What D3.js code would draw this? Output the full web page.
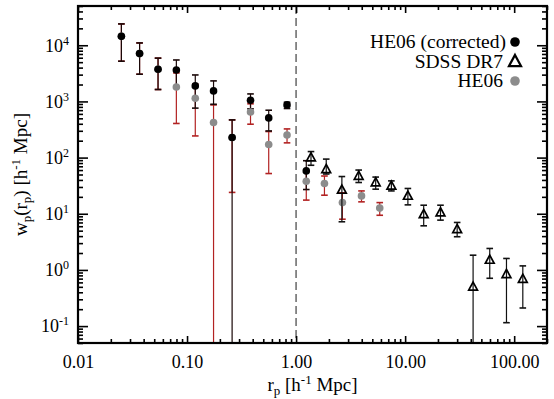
<!DOCTYPE html>
<html>
<head>
<meta charset="utf-8">
<script src="https://cdn.jsdelivr.net/npm/d3@7"></script>
<style>
  body { margin: 0; background: #fff; }
  svg, svg text { font-family: "Liberation Serif", "Times New Roman", Tinos, "DejaVu Serif", serif; }
</style>
</head>
<body>
<div id="container"></div>
<script>
// HE06 bins (projected separation, h^-1 Mpc)
const rpHe = [0.025, 0.0367, 0.0542, 0.0798, 0.119, 0.175, 0.259, 0.382, 0.561, 0.826, 1.24, 1.82, 2.66, 3.98, 5.85];
// HE06 corrected
const wpCorr = [14400, 7100, 3740, 3630, 1890, 1540, 228, 1050, 509, 867, 58];
const corrErrHi = [9600, 3900, 2160, 1840, 1070, 780, 241, 310, 188, 100, 30];
const corrErrLo = [9200, 4050, 2110, 1840, 1130, 650, 241, 310, 211, 119, 31];
// HE06 raw
const wpHe = [14400, 7100, 3740, 1810, 1140, 422, 228, 650, 171, 253, 38, 34.6, 15.8, 20.8, 12.6];
const heErrHi = [9600, 3900, 2160, 1405, 897, 445, 241, 257, 120, 71, 20.5, 12.4, 7.8, 4.7, 3.2];
const heErrLo = [9200, 4050, 2110, 1405, 897, 445, 204, 257, 119, 70, 20.5, 13.2, 7.8, 4.5, 3.2];
// SDSS DR7
const rpSdss = [1.37, 1.89, 2.63, 3.75, 5.37, 7.48, 10.6, 14.8, 21.1, 30, 42, 59.7, 85, 120];
const wpSdss = [100, 62, 26.6, 47, 36, 31.4, 20.8, 9.8, 10.5, 5.3, 0.50, 1.51, 0.84, 0.69];
const sdssErrHi = [28, 32, 19.4, 13, 9, 7.1, 7.4, 4.4, 3.7, 1.7, 1.33, 0.9, 0.76, 0.49];
const sdssErrLo = [27, 11, 19.4, 11, 8.6, 5.9, 6.4, 3.7, 2.8, 1.4, 0.5, 0.8, 0.725, 0.48];

const xTicks = [0.01, 0.1, 1, 10, 100];
const xTickLabels = ["0.01", "0.10", "1.00", "10.00", "100.00"];
const yTicks = [0.1, 1, 10, 100, 1000, 10000];
const yTickExp = ["-1", "0", "1", "2", "3", "4"];
const legendNames = ["HE06 (corrected)", "SDSS DR7", "HE06"];

const FONT = "'Liberation Serif', 'Times New Roman', Tinos, 'DejaVu Serif', serif";

const W = 554, H = 399;
const margin = {top: 6, right: 7, bottom: 56, left: 78};
const w = W - margin.left - margin.right;
const h = H - margin.top - margin.bottom;

const x = d3.scaleLog().domain([0.01, 200]).range([0, w]);
const y = d3.scaleLog().domain([0.05, 50000]).range([h, 0]);

function minors(lo, hi) {
    let out = [];
    for (let e = Math.floor(Math.log10(lo)); e <= Math.ceil(Math.log10(hi)); e++) {
        for (let m = 2; m <= 9; m++) {
            const v = m * Math.pow(10, e);
            if (v >= lo && v <= hi) out.push(v);
        }
    }
    return out;
}

const svg = d3.select("#container").append("svg")
    .attr("width", W).attr("height", H)
    .attr("font-family", FONT);

svg.append("defs").append("clipPath").attr("id", "clip")
    .append("rect").attr("width", w).attr("height", h);

const g = svg.append("g").attr("transform", "translate(" + margin.left + "," + margin.top + ")");

// dashed line at 1 Mpc
g.append("line")
    .attr("x1", x(1)).attr("x2", x(1))
    .attr("y1", 0).attr("y2", h)
    .attr("stroke", "#808080").attr("stroke-width", 1.8)
    .attr("stroke-dasharray", "8,4");

const plot = g.append("g").attr("clip-path", "url(#clip)");

function errorBars(sel, rp, wp, hi, lo, color, lw) {
    const capW = 3.3;
    const grp = sel.append("g").attr("stroke", color);
    wp.forEach((v, i) => {
        const cx = x(rp[i]);
        const yTop = y(v + hi[i]);
        const low = v - lo[i];
        const yBot = low > 0 ? y(low) : h + 10;
        grp.append("line").attr("x1", cx).attr("x2", cx)
            .attr("y1", yTop).attr("y2", yBot).attr("stroke-width", lw);
        grp.append("line").attr("x1", cx - capW).attr("x2", cx + capW)
            .attr("y1", yTop).attr("y2", yTop).attr("stroke-width", 1.6);
        if (low > 0) {
            grp.append("line").attr("x1", cx - capW).attr("x2", cx + capW)
                .attr("y1", yBot).attr("y2", yBot).attr("stroke-width", 1.6);
        }
    });
}

errorBars(plot, rpHe, wpHe, heErrHi, heErrLo, "#b22222", 1.2);
errorBars(plot, rpHe, wpCorr, corrErrHi, corrErrLo, "#1a0808", 1.2);

plot.selectAll("circle.he")
    .data(wpHe)
    .enter()
    .append("circle")
    .attr("class", "he")
    .attr("cx", (d, i) => x(rpHe[i]))
    .attr("cy", (d) => y(d))
    .attr("r", 3.8)
    .attr("fill", "#8c8c8c");

plot.selectAll("circle.corr")
    .data(wpCorr)
    .enter()
    .append("circle")
    .attr("class", "corr")
    .attr("cx", (d, i) => x(rpHe[i]))
    .attr("cy", (d) => y(d))
    .attr("r", 3.8)
    .attr("fill", "#000");

errorBars(plot, rpSdss, wpSdss, sdssErrHi, sdssErrLo, "#111", 1.2);

const tri = (s) => "M0," + (-s * 0.6) + "L" + (s * 0.55) + "," + (s * 0.42) + "L" + (-s * 0.55) + "," + (s * 0.42) + "Z";

plot.selectAll("path.sdss")
    .data(wpSdss)
    .enter()
    .append("path")
    .attr("class", "sdss")
    .attr("d", tri(8))
    .attr("transform", (d, i) => "translate(" + x(rpSdss[i]) + "," + y(d) + ")")
    .attr("fill", "none")
    .attr("stroke", "#000")
    .attr("stroke-width", 1.7)
    .attr("stroke-linejoin", "miter");

// axes
function styleAxis(a) {
    a.attr("font-family", FONT);
    a.select(".domain").remove();
    a.selectAll(".tick line").attr("stroke", "#000").attr("stroke-width", 1.6);
}

const xMinor = minors(0.01, 200);
const yMinor = minors(0.05, 50000);

g.append("g").attr("transform", "translate(0," + h + ")")
    .call(d3.axisBottom(x).tickValues(xTicks).tickSize(-7).tickPadding(12)
        .tickFormat((d, i) => xTickLabels[i]))
    .call(styleAxis)
    .selectAll("text").attr("font-size", 18).attr("fill", "#000");
g.append("g").attr("transform", "translate(0," + h + ")")
    .call(d3.axisBottom(x).tickValues(xMinor).tickSize(-4).tickFormat(""))
    .call(styleAxis);
g.append("g")
    .call(d3.axisTop(x).tickValues(xTicks).tickSize(-7).tickFormat(""))
    .call(styleAxis);
g.append("g")
    .call(d3.axisTop(x).tickValues(xMinor).tickSize(-4).tickFormat(""))
    .call(styleAxis);

const yAx = g.append("g")
    .call(d3.axisLeft(y).tickValues(yTicks).tickSize(-10).tickPadding(9).tickFormat(""))
    .call(styleAxis);
yAx.selectAll(".tick text").each(function(d, i) {
    const t = d3.select(this)
        .attr("font-size", 18).attr("fill", "#000");
    t.append("tspan").text("10");
    t.append("tspan").text(yTickExp[i]).attr("font-size", 12).attr("dy", -7);
});
g.append("g")
    .call(d3.axisLeft(y).tickValues(yMinor).tickSize(-5).tickFormat(""))
    .call(styleAxis);
g.append("g").attr("transform", "translate(" + w + ",0)")
    .call(d3.axisRight(y).tickValues(yTicks).tickSize(-10).tickFormat(""))
    .call(styleAxis);
g.append("g").attr("transform", "translate(" + w + ",0)")
    .call(d3.axisRight(y).tickValues(yMinor).tickSize(-5).tickFormat(""))
    .call(styleAxis);

// frame
g.append("rect")
    .attr("width", w).attr("height", h)
    .attr("fill", "none").attr("stroke", "#000").attr("stroke-width", 2.2);

// axis titles
const xt = svg.append("text")
    .attr("x", margin.left + w / 2).attr("y", 391)
    .attr("text-anchor", "middle").attr("font-size", 19);
xt.append("tspan").text("r");
xt.append("tspan").text("p").attr("font-size", 13).attr("dy", 4);
xt.append("tspan").text(" [h").attr("dy", -4);
xt.append("tspan").text("-1").attr("font-size", 13).attr("dy", -7);
xt.append("tspan").text(" Mpc]").attr("dy", 7);

const yt = svg.append("text")
    .attr("transform", "translate(27," + (margin.top + h / 2) + ") rotate(-90)")
    .attr("text-anchor", "middle").attr("font-size", 19);
yt.append("tspan").text("w");
yt.append("tspan").text("p").attr("font-size", 13).attr("dy", 4);
yt.append("tspan").text("(r").attr("dy", -4);
yt.append("tspan").text("p").attr("font-size", 13).attr("dy", 4);
yt.append("tspan").text(") [h").attr("dy", -4);
yt.append("tspan").text("-1").attr("font-size", 13).attr("dy", -7);
yt.append("tspan").text(" Mpc]").attr("dy", 7);

// legend
const legend = svg.append("g").attr("transform", "translate(515,42)");
legendNames.forEach((name, i) => {
    const row = legend.append("g").attr("transform", "translate(0," + i * 19.5 + ")");
    row.append("text").text(name)
        .attr("x", i == 0 ? -9 : -12).attr("y", 6)
        .attr("text-anchor", "end").attr("font-size", 19.5);
    if (i == 1) {
        row.append("path").attr("d", tri(11))
            .attr("fill", "none").attr("stroke", "#000").attr("stroke-width", 2.2);
    } else {
        row.append("circle").attr("r", 4.8)
            .attr("fill", i == 0 ? "#000" : "#8c8c8c");
    }
});
</script>
</body>
</html>
